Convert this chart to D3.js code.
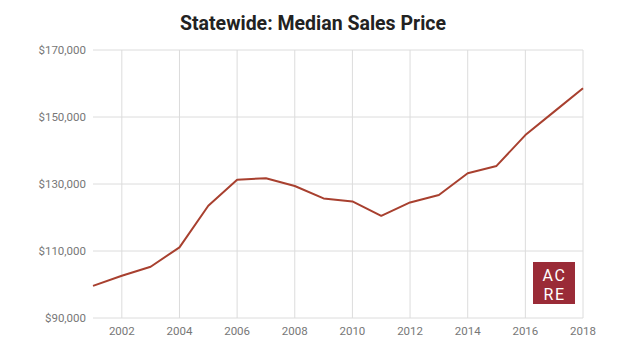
<!DOCTYPE html>
<html><head><meta charset="utf-8">
<script src="https://cdn.jsdelivr.net/npm/d3@7"></script>
<style>body{margin:0;background:#fff;font-family:Roboto,"Noto Sans",sans-serif}</style>
</head><body><svg id="c" width="640" height="358"></svg>
<script>
const years = [2001,2002,2003,2004,2005,2006,2007,2008,2009,2010,2011,2012,2013,2014,2015,2016,2017,2018];
const prices = [99600,102600,105300,111100,123500,131300,131700,129400,125700,124800,120500,124500,126700,133200,135400,144600,151600,158600];
const yTicks = [90000,110000,130000,150000,170000];
const xTicks = [2002,2004,2006,2008,2010,2012,2014,2016,2018];
const title = "Statewide: Median Sales Price";

const svg = d3.select("#c");
const x = d3.scaleLinear().domain([2001,2018]).range([93,583]);
const y = d3.scaleLinear().domain([90000,170000]).range([318,50]);

svg.append("text").attr("x",313).attr("y",30).attr("text-anchor","middle")
  .attr("font-size",19.5).attr("font-weight","bold").attr("fill","#222").text(title);

const grid = svg.append("g");
grid.selectAll("line.h").data(yTicks).join("line")
  .attr("x1",x(2001)).attr("x2",x(2018)).attr("y1",d=>y(d)).attr("y2",d=>y(d))
  .attr("stroke","#dcdcdc").attr("stroke-width",1);
grid.selectAll("line.v").data(xTicks).join("line")
  .attr("x1",d=>x(d)).attr("x2",d=>x(d)).attr("y1",y(170000)).attr("y2",y(90000))
  .attr("stroke","#dcdcdc").attr("stroke-width",1);

svg.append("g").selectAll("text").data(yTicks).join("text")
  .attr("x",86).attr("y",d=>y(d)+4).attr("text-anchor","end")
  .attr("font-size",11.5).attr("fill","#777").text(d=>d3.format("$,")(d));
svg.append("g").selectAll("text").data(xTicks).join("text")
  .attr("x",d=>x(d)).attr("y",335).attr("text-anchor","middle")
  .attr("font-size",11.5).attr("fill","#777").text(d=>d);

const line = d3.line().x((d,i)=>x(years[i])).y(d=>y(d));
svg.append("path").datum(prices).attr("d",line).attr("fill","none")
  .attr("stroke","#a8402f").attr("stroke-width",2).attr("stroke-linejoin","round");

const logo = svg.append("g");
logo.append("rect").attr("x",533).attr("y",262).attr("width",42).attr("height",42).attr("fill","#9a2b37");
logo.append("text").attr("x",554.5).attr("y",281).attr("text-anchor","middle").attr("font-size",16).attr("letter-spacing",1.5).attr("fill","#fff").text("AC");
logo.append("text").attr("x",554.5).attr("y",300).attr("text-anchor","middle").attr("font-size",16).attr("letter-spacing",1.5).attr("fill","#fff").text("RE");
</script></body></html>
